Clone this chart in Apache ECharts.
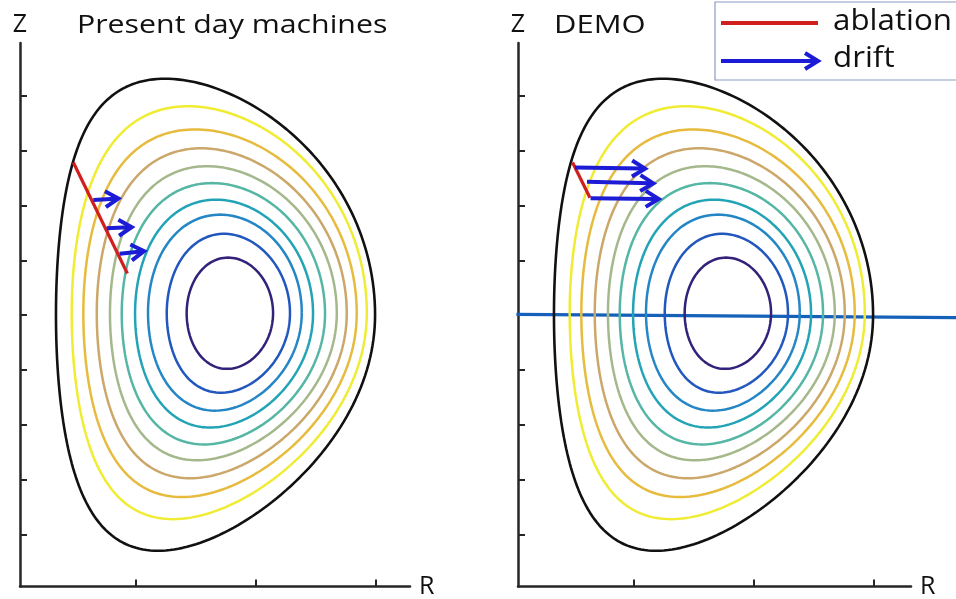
<!DOCTYPE html>
<html><head><meta charset="utf-8">
<script src="https://cdn.jsdelivr.net/npm/echarts@6/dist/echarts.min.js"></script>
<style>html,body{margin:0;padding:0;background:#fff}#c{width:956px;height:599px}</style>
</head><body><div id="c"></div>
<script>
// ---- Data (axis units: R ticks at 1,2,3 ; Z ticks at -4..4) ----
const rTicks = [1, 2, 3];
const zTicks = [-4, -3, -2, -1, 0, 1, 2, 3, 4];
const panelTitles = ['Present day machines', 'DEMO'];
const legendLabels = ['ablation', 'drift'];

// flux contours, outermost (boundary) to innermost
const contourColors = ['#111111', '#f0ec34', '#e6bb3e', '#cba76a', '#a5b88c', '#56b6a4', '#23a4b6', '#2586c6', '#2257bd', '#33217a'];
const contourRLeft   = [0.333, 0.464, 0.561, 0.673, 0.783, 0.881, 0.992, 1.100, 1.256, 1.422];
const contourRRight  = [2.992, 2.923, 2.839, 2.756, 2.673, 2.575, 2.475, 2.381, 2.283, 2.142];
const contourZTop    = [4.308, 3.807, 3.385, 3.041, 2.715, 2.407, 2.105, 1.833, 1.484, 1.050];
const contourZBottom = [-4.290, -3.714, -3.312, -2.968, -2.642, -2.353, -2.045, -1.738, -1.412, -0.977];
const contourRAtTop    = [1.242, 1.433, 1.492, 1.542, 1.592, 1.633, 1.667, 1.700, 1.733, 1.767];
const contourRAtBottom = [1.183, 1.308, 1.383, 1.450, 1.508, 1.567, 1.617, 1.658, 1.708, 1.758];
const contourSquareUpper = [0.04, 0.03, 0.03, 0.02, 0.02, 0.02, 0.01, 0.01, 0.00, 0.00];
const contourSquareLower = [0.00, 0.00, 0.00, 0.00, 0.00, 0.00, 0.00, 0.00, 0.00, 0.00];

// ablation segments [R, Z] per panel
const ablationLeft  = [[0.478, 2.782], [0.928, 0.760]];
const ablationRight = [[0.488, 2.782], [0.633, 2.141]];
// drift arrows [R1, Z1, R2, Z2]
const driftLeft  = [[0.644, 2.100, 0.853, 2.127], [0.756, 1.584, 0.964, 1.605], [0.863, 1.122, 1.067, 1.167]];
const driftRight = [[0.508, 2.691, 1.092, 2.670], [0.608, 2.431, 1.161, 2.402], [0.638, 2.130, 1.206, 2.118]];
// horizontal line in DEMO panel [R1, Z1, R2, Z2]
const midplaneRight = [[0.020, 0.015, 3.683, -0.045]];

// ---- build contour paths (Miller-type shape through read extents) ----
function contourPath(i) {
  const R0 = (contourRLeft[i] + contourRRight[i]) / 2;
  const a = (contourRRight[i] - contourRLeft[i]) / 2;
  const zc = (contourZTop[i] + contourZBottom[i]) / 2;
  const h = (contourZTop[i] - contourZBottom[i]) / 2;
  const du = Math.asin((R0 - contourRAtTop[i]) / a);
  const dl = Math.asin((R0 - contourRAtBottom[i]) / a);
  const pts = [];
  const N = 240;
  for (let k = 0; k <= N; k++) {
    const t = 2 * Math.PI * k / N;
    const s = Math.sin(t);
    const d = s >= 0 ? du : dl;
    const q = s >= 0 ? contourSquareUpper[i] : contourSquareLower[i];
    pts.push([R0 + a * Math.cos(t + d * s), zc + h * Math.sin(t + q * Math.sin(2 * t))]);
  }
  return pts;
}

const RED = '#d01f1f', BLUE = '#1c1cd6', AXIS = '#262626';
const FONT = '"Open Sans", "DejaVu Sans", sans-serif';

function arrowItem(params, api) {
  const p1 = api.coord([api.value(0), api.value(1)]);
  const p2 = api.coord([api.value(2), api.value(3)]);
  const dx = p2[0] - p1[0], dy = p2[1] - p1[1];
  const L = Math.hypot(dx, dy), ux = dx / L, uy = dy / L;
  const hl = 13, hw = 8;
  const b1 = [p2[0] - ux * hl - uy * hw, p2[1] - uy * hl + ux * hw];
  const b2 = [p2[0] - ux * hl + uy * hw, p2[1] - uy * hl - ux * hw];
  return { type: 'group', children: [
    { type: 'line', shape: { x1: p1[0], y1: p1[1], x2: p2[0] - ux * 3, y2: p2[1] - uy * 3 }, style: { stroke: BLUE, lineWidth: 4, fill: null } },
    { type: 'polyline', shape: { points: [b1, [p2[0], p2[1]], b2] }, style: { stroke: BLUE, lineWidth: 4, fill: null, lineJoin: 'miter' } }
  ]};
}
function lineItem(params, api) {
  const p1 = api.coord([api.value(0), api.value(1)]);
  const p2 = api.coord([api.value(2), api.value(3)]);
  return { type: 'line', shape: { x1: p1[0], y1: p1[1], x2: p2[0], y2: p2[1] }, style: { stroke: '#1560b8', lineWidth: 3.2, fill: null } };
}

const grids = [
  { left: 20, top: 43, width: 390, height: 547 },
  { left: 518, top: 43, width: 393, height: 547 }
];
const xMax = [3.283, 3.308];

function xAxis(i) {
  return {
    gridIndex: i, type: 'value', min: 0.0333, max: xMax[i],
    name: 'R', nameLocation: 'end', nameGap: 9,
    nameTextStyle: { fontSize: 25, color: '#111', fontFamily: FONT, padding: [6, 0, 0, 0] },
    axisLine: { show: true, onZero: false, lineStyle: { color: AXIS, width: 2.5 } },
    axisTick: { show: true, inside: true, length: 7, customValues: rTicks, lineStyle: { color: AXIS, width: 2 } },
    axisLabel: { show: false }, splitLine: { show: false }
  };
}
function yAxis(i) {
  return {
    gridIndex: i, type: 'value', min: -4.941, max: 4.959,
    name: 'Z', nameLocation: 'end', nameGap: 6,
    nameTextStyle: { fontSize: 25, color: '#111', fontFamily: FONT, align: 'center' },
    axisLine: { show: true, onZero: false, lineStyle: { color: AXIS, width: 2.5 } },
    axisTick: { show: true, inside: true, length: 7, customValues: zTicks, lineStyle: { color: AXIS, width: 2 } },
    axisLabel: { show: false }, splitLine: { show: false }
  };
}

const series = [];
for (let g = 0; g < 2; g++) {
  for (let i = contourColors.length - 1; i >= 0; i--) {
    series.push({
      type: 'line', xAxisIndex: g, yAxisIndex: g, data: contourPath(i),
      showSymbol: false, symbol: 'none', silent: true,
      lineStyle: { color: contourColors[i], width: i === 0 ? 2.6 : 2.5 }
    });
  }
}
series.push({ type: 'custom', name: 'midplane', xAxisIndex: 1, yAxisIndex: 1, data: midplaneRight, renderItem: lineItem, clip: false, z: 3 });
series.push({ type: 'line', name: 'ablation', xAxisIndex: 0, yAxisIndex: 0, data: ablationLeft, symbol: 'none', lineStyle: { color: RED, width: 3.2 }, z: 4 });
series.push({ type: 'line', name: 'ablation', xAxisIndex: 1, yAxisIndex: 1, data: ablationRight, symbol: 'none', lineStyle: { color: RED, width: 3.2 }, z: 4 });
series.push({ type: 'custom', name: 'drift', xAxisIndex: 0, yAxisIndex: 0, data: driftLeft, renderItem: arrowItem, z: 5 });
series.push({ type: 'custom', name: 'drift', xAxisIndex: 1, yAxisIndex: 1, data: driftRight, renderItem: arrowItem, z: 5 });

const chart = echarts.init(document.getElementById('c'), null, { renderer: 'canvas' });
chart.setOption({
  animation: false,
  backgroundColor: '#ffffff',
  grid: grids,
  xAxis: [xAxis(0), xAxis(1)],
  yAxis: [yAxis(0), yAxis(1)],
  series: series,
  graphic: [
    { type: 'text', x: 77, y: 26, scaleX: 1.165, style: { text: panelTitles[0], font: '26px ' + FONT, fill: '#111', verticalAlign: 'middle' } },
    { type: 'text', x: 554, y: 26, scaleX: 1.19, style: { text: panelTitles[1], font: '26px ' + FONT, fill: '#111', verticalAlign: 'middle' } },
    { type: 'rect', shape: { x: 715, y: 2, width: 260, height: 78 }, style: { fill: '#fff', stroke: '#8b9dc3', lineWidth: 1.2 }, z: 100 },
    { type: 'line', shape: { x1: 721, y1: 23, x2: 818, y2: 23 }, style: { stroke: RED, lineWidth: 4 }, z: 101 },
    { type: 'line', shape: { x1: 721, y1: 61, x2: 815, y2: 61 }, style: { stroke: BLUE, lineWidth: 4 }, z: 101 },
    { type: 'polyline', shape: { points: [[805, 53], [818, 61], [805, 69]] }, style: { stroke: BLUE, lineWidth: 4, fill: null }, z: 101 },
    { type: 'text', x: 833, y: 22, scaleX: 1.08, style: { text: legendLabels[0], font: '29px ' + FONT, fill: '#111', verticalAlign: 'middle' }, z: 101 },
    { type: 'text', x: 833, y: 59, scaleX: 1.08, style: { text: legendLabels[1], font: '29px ' + FONT, fill: '#111', verticalAlign: 'middle' }, z: 101 }
  ]
});
</script></body></html>
